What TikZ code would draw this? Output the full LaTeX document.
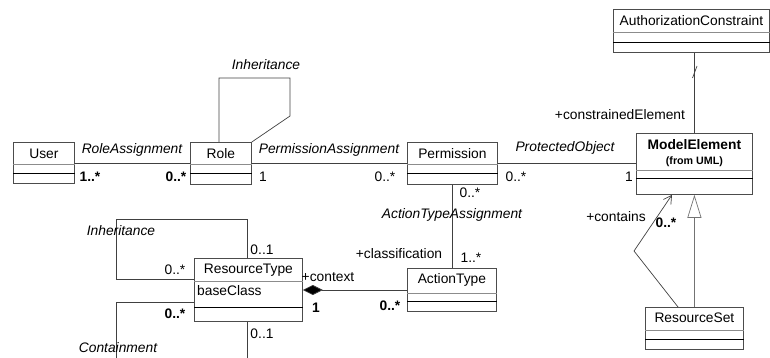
\documentclass[tikz,border=0pt]{standalone}
\usepackage{fontspec}
\setmainfont{Liberation Sans}
\usetikzlibrary{calc,arrows.meta}
\begin{document}
\begin{tikzpicture}[x=1pt,y=-1pt,
  font=\fontsize{13.8}{16}\selectfont,
  classbox/.style={draw=black!70,line width=0.8pt,inner sep=0pt,anchor=north west},
  divlight/.style={draw=black!45,line width=0.7pt},
  divdark/.style={draw=black,line width=0.8pt},
  conn/.style={draw=black!75,line width=0.7pt},
  lbl/.style={inner sep=0pt},
  ital/.style={inner sep=0pt,font=\fontsize{13.8}{16}\selectfont\itshape},
  bld/.style={inner sep=0pt,font=\fontsize{13.8}{16}\selectfont\bfseries},
]
\useasboundingbox (0,0) rectangle (770,358);

% ---------- classes ----------
\node[classbox,minimum width=61pt,minimum height=41pt] (user) at (13,142) {};
\draw[divlight] ($(user.north west)+(0,22)$) -- ($(user.north east)+(0,22)$);
\draw[divdark] ($(user.north west)+(0,31)$) -- ($(user.north east)+(0,31)$);
\node[lbl] (usert) at ($(user.north)+(0,12)$) {User};

\node[classbox,minimum width=61pt,minimum height=42pt] (role) at (190,142) {};
\draw[divlight] ($(role.north west)+(0,22)$) -- ($(role.north east)+(0,22)$);
\draw[divdark] ($(role.north west)+(0,31)$) -- ($(role.north east)+(0,31)$);
\node[lbl] (rolet) at ($(role.north)+(0,12)$) {Role};

\node[classbox,minimum width=90pt,minimum height=42pt] (perm) at (407,142) {};
\draw[divlight] ($(perm.north west)+(0,22)$) -- ($(perm.north east)+(0,22)$);
\draw[divdark] ($(perm.north west)+(0,31)$) -- ($(perm.north east)+(0,31)$);
\node[lbl] (permt) at ($(perm.north)+(0,12)$) {Permission};

\node[classbox,minimum width=116pt,minimum height=61pt] (me) at (636,133) {};
\draw[divlight] ($(me.north west)+(0,37)$) -- ($(me.north east)+(0,37)$);
\draw[divdark] ($(me.north west)+(0,45)$) -- ($(me.north east)+(0,45)$);
\node[bld] (met) at ($(me.north)+(0,12)$) {ModelElement};
\node[inner sep=0pt,font=\fontsize{10.7}{12}\selectfont\bfseries] (meu) at ($(me.north)+(0,29)$) {(from UML)};

\node[classbox,minimum width=156pt,minimum height=43pt] (authc) at (613,9) {};
\draw[divlight] ($(authc.north west)+(0,23)$) -- ($(authc.north east)+(0,23)$);
\draw[divdark] ($(authc.north west)+(0,33)$) -- ($(authc.north east)+(0,33)$);
\node[lbl] (authct) at ($(authc.north)+(0,12)$) {AuthorizationConstraint};

\node[classbox,minimum width=89pt,minimum height=43pt] (at) at (407,268) {};
\draw[divlight] ($(at.north west)+(0,25)$) -- ($(at.north east)+(0,25)$);
\draw[divdark] ($(at.north west)+(0,33)$) -- ($(at.north east)+(0,33)$);
\node[lbl] (att) at ($(at.north)+(0,12)$) {ActionType};

\node[classbox,minimum width=108pt,minimum height=63pt] (rt) at (194,258) {};
\draw[divlight] ($(rt.north west)+(0,23)$) -- ($(rt.north east)+(0,23)$);
\draw[divdark] ($(rt.north west)+(0,49)$) -- ($(rt.north east)+(0,49)$);
\node[lbl] (rtt) at ($(rt.north)+(0,12)$) {ResourceType};
\node[lbl,anchor=west] (rtattr) at ($(rt.north west)+(3,33)$) {baseClass};

\node[classbox,minimum width=98pt,minimum height=42pt] (rs) at (645,307) {};
\draw[divlight] ($(rs.north west)+(0,23)$) -- ($(rs.north east)+(0,23)$);
\draw[divdark] ($(rs.north west)+(0,32)$) -- ($(rs.north east)+(0,32)$);
\node[lbl] (rst) at ($(rs.north)+(0,11)$) {ResourceSet};

% ---------- connectors ----------
% RoleAssignment
\draw[conn] ($(user.north east)+(0,21)$) -- ($(role.north west)+(0,21)$);
% Role inheritance
\draw[conn] ($(role.north west)+(29,0)$) -- ++(0,-64) coordinate (ri1) -- (290,78) -- (290,116) -- (role.north east);
% PermissionAssignment
\draw[conn] ($(role.north east)+(0,21)$) -- ($(perm.north west)+(0,21)$);
% ProtectedObject
\draw[conn] ($(perm.north east)+(0,21)$) -- ($(me.north west)+(0,30)$);
% constrainedElement
\draw[conn] (me.north) -- (me.north |- authc.south);
\draw[conn] (692.5,78) -- (697,66);
% ActionTypeAssignment
\draw[conn] (perm.south) -- (perm.south |- at.north);
% composition
\draw[conn,{Diamond[length=20pt,width=10pt,fill=black]}-] ($(rt.north east)+(0,32)$) -- ($(at.north west)+(0,22)$);
% ResourceType inheritance
\draw[conn] ($(rt.north west)+(53,0)$) -- ++(0,-39) -- (116,219) -- (116,279) -- ($(rt.north west)+(0,21)$);
% Containment
\draw[conn] ($(rt.north west)+(0,44)$) -- (116,302) -- (116,358);
\draw[conn] ($(rt.south west)+(53,0)$) -- (247,358);
% Generalization
\draw[draw=black!55,line width=0.7pt,-{Triangle[open,length=23pt,width=14pt,fill=white]}] (rs.north) -- (rs.north |- me.south);
% contains
\draw[conn,-{Straight Barb[length=8pt,width=9pt]}] ($(rs.north west)+(33,0)$) -- (634,251) -- ($(me.south west)+(36,0)$);

% ---------- labels ----------
\node[ital] (l1) at (266,65) {Inheritance};
\node[ital] (l2) at (132,150) {RoleAssignment};
\node[bld] (m1) at (90,177) {1..*};
\node[bld] (m2) at (176,177) {0..*};
\node[ital] (l3) at (329,150) {PermissionAssignment};
\node[lbl] (m3) at (263,177) {1};
\node[lbl] (m4) at (385,177) {0..*};
\node[ital] (l4) at (565,148) {ProtectedObject};
\node[lbl] (m5) at (516,177) {0..*};
\node[lbl] (m6) at (629,177) {1};
\node[lbl] (l5) at (620,115) {+constrainedElement};
\node[lbl] (m7) at (470,193) {0..*};
\node[ital] (l6) at (452,215) {ActionTypeAssignment};
\node[lbl] (l7) at (399,254) {+classification};
\node[lbl] (m8) at (471,258) {1..*};
\node[lbl] (l8) at (328,277) {+context};
\node[bld] (m9) at (316,308) {1};
\node[bld] (m10) at (390,306) {0..*};
\node[ital] (l9) at (121,231) {Inheritance};
\node[lbl] (m11) at (262,250) {0..1};
\node[lbl] (m12) at (175,270) {0..*};
\node[bld] (m13) at (175,314) {0..*};
\node[lbl] (m14) at (262,334) {0..1};
\node[ital] (l10) at (118,348) {Containment};
\node[lbl] (l11) at (616,217) {+contains};
\node[bld] (m15) at (666,223) {0..*};
\end{tikzpicture}
\end{document}
